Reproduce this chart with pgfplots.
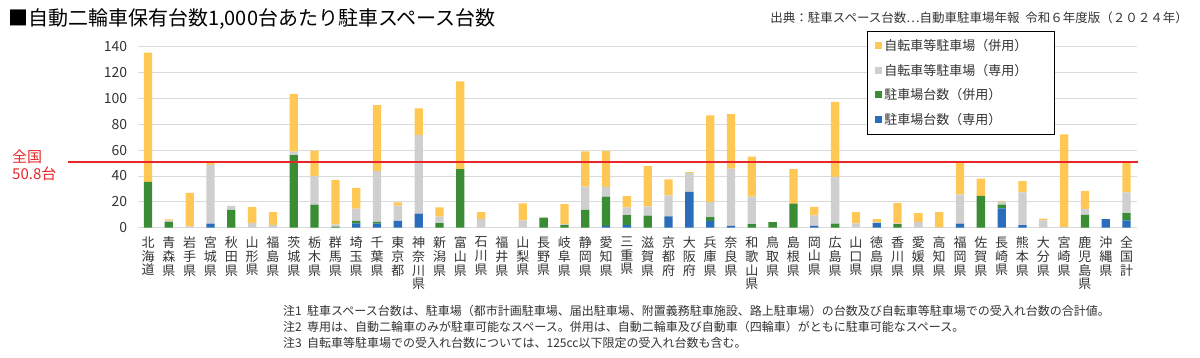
\documentclass[border=0pt]{standalone}
\usepackage{fontspec}
\setmainfont{Noto Sans CJK JP}
\usepackage{pgfplots}
\usepackage{pgfplotstable}
\pgfplotsset{compat=1.18}
\definecolor{cyel}{HTML}{FFC855}
\definecolor{cgray}{HTML}{CFCFCF}
\definecolor{cgreen}{HTML}{3A8C35}
\definecolor{cblue}{HTML}{2A6DBA}
\definecolor{cgrid}{HTML}{DADADA}
\definecolor{ctext}{HTML}{333333}
\definecolor{cred}{HTML}{E8262A}
\pgfplotstableread{
i blue green gray yellow
0 0 35.5 0 100
1 0 4.5 1.0 1.0
2 0 0 1.0 26
3 3.1 0 45.4 2.0
4 0 13.7 3.0 0.2
5 0 0 3.6 12.4
6 0 0 2.0 10.1
7 0 56.2 2.6 44.8
8 0 17.8 22.2 19.6
9 0 0.8 1.8 34.3
10 3.4 1.8 9.5 16.2
11 3.1 1.5 39.2 51.1
12 5.2 0 11.8 2.6
13 10.8 0 60.9 20.6
14 0 3.6 5.0 7.1
15 0 45.4 0 67.8
16 0 0 6.7 5.4
17 0 0 0 0
18 0 0 5.7 13.1
19 0 7.7 0 0
20 0 2.0 1.0 15.3
21 0 13.7 18.0 27.3
22 1.5 22.5 7.5 27.8
23 2.0 7.8 5.9 8.8
24 0 9.3 7.2 31.2
25 8.8 0 16.2 12.4
26 27.8 0 14.5 0.7
27 5.2 3.0 11.7 67.0
28 1.5 0 44.1 42.3
29 0 2.8 21.2 30.9
30 0 4.4 0 0
31 0 18.6 0 26.8
32 1.5 0 8.0 6.7
33 0 3.1 36.3 58.0
34 0 0 3.4 8.7
35 3.6 0 0.8 2.3
36 0 2.8 0.5 15.8
37 0 0 4.6 6.7
38 0 0 0.5 11.6
39 3.1 0 22.4 25.8
40 0 24.7 0 13.2
41 15.0 2.8 2.0 0.6
42 2.0 0 25.3 8.8
43 0 0 5.7 1.3
44 0 0 0.7 71.5
45 0 10.0 4.4 14.0
46 6.7 0 0 0
47 5.7 5.6 16.0 23.5
}\data
\begin{document}
\begin{tikzpicture}[x=1pt,y=1pt]
\useasboundingbox (0,0) rectangle (1200,357);
\begin{axis}[
  at={(137.6pt,129.3pt)}, anchor=south west,
  scale only axis, width=999.4pt, height=181pt,
  xmin=-0.5, xmax=47.5, ymin=0, ymax=140,
  ybar stacked, bar width=8.3pt,
  axis line style={draw=none},
  major tick length=0pt,
  ymajorgrids, grid style={cgrid, line width=0.8pt},
  ytick={0,20,...,140},
  yticklabel style={font=\fontsize{14}{14}\selectfont, text=ctext, xshift=-7pt},
  /pgf/number format/assume math mode=true,
  xtick={0,...,47},
  xticklabels={{北\\海\\道},{青\\森\\県},{岩\\手\\県},{宮\\城\\県},{秋\\田\\県},{山\\形\\県},{福\\島\\県},{茨\\城\\県},{栃\\木\\県},{群\\馬\\県},{埼\\玉\\県},{千\\葉\\県},{東\\京\\都},{神\\奈\\川\\県},{新\\潟\\県},{富\\山\\県},{石\\川\\県},{福\\井\\県},{山\\梨\\県},{長\\野\\県},{岐\\阜\\県},{静\\岡\\県},{愛\\知\\県},{三\\重\\県},{滋\\賀\\県},{京\\都\\府},{大\\阪\\府},{兵\\庫\\県},{奈\\良\\県},{和\\歌\\山\\県},{鳥\\取\\県},{島\\根\\県},{岡\\山\\県},{広\\島\\県},{山\\口\\県},{徳\\島\\県},{香\\川\\県},{愛\\媛\\県},{高\\知\\県},{福\\岡\\県},{佐\\賀\\県},{長\\崎\\県},{熊\\本\\県},{大\\分\\県},{宮\\崎\\県},{鹿\\児\\島\\県},{沖\\縄\\県},{全\\国\\計}},
  xticklabel style={font=\fontsize{13}{13.7}\selectfont, text=ctext, align=center, anchor=north, inner sep=0pt, yshift=-9pt},
  reverse legend,
  legend cell align=left,
  legend style={at={(0.7298,1.0867)}, anchor=north west, draw=black, line width=0.8pt, fill=white,
    font=\fontsize{13}{13}\selectfont, text=ctext, row sep=8pt, inner xsep=8pt, inner ysep=6pt},
  legend image code/.code={\fill[#1, draw=none] (0pt,-3.5pt) rectangle (7pt,3.5pt);},
]
\addplot[fill=cblue, draw=none] table[x=i, y=blue]{\data};
\addlegendentry{\makebox[160pt][l]{駐車場台数（専用）}}
\addplot[fill=cgreen, draw=none] table[x=i, y=green]{\data};
\addlegendentry{\makebox[160pt][l]{駐車場台数（併用）}}
\addplot[fill=cgray, draw=none] table[x=i, y=gray]{\data};
\addlegendentry{\makebox[160pt][l]{自転車等駐車場（専用）}}
\addplot[fill=cyel, draw=none] table[x=i, y=yellow]{\data};
\addlegendentry{\makebox[160pt][l]{自転車等駐車場（併用）}}
\end{axis}
\begin{axis}[
  at={(137.6pt,129.3pt)}, anchor=south west,
  scale only axis, width=999.4pt, height=181pt,
  xmin=-0.5, xmax=47.5, ymin=0, ymax=140,
  hide axis, clip=false,
]
\addplot[cred, line width=1.3pt] coordinates {(-3.84,50.8) (47.53,50.8)};
\end{axis}
\node[anchor=west, font=\fontsize{20}{20}\selectfont, text=black, inner sep=0pt] at (8,338) {■自動二輪車保有台数1,000台あたり駐車スペース台数};
\node[anchor=east, font=\fontsize{12.5}{12.5}\selectfont, text=ctext, inner sep=0pt] at (1188,339) {出典：駐車スペース台数…自動車駐車場年報\ \ 令和６年度版（２０２４年）};
\node[anchor=west, font=\fontsize{15}{15}\selectfont, text=cred, inner sep=0pt] at (12,200) {全国};
\node[anchor=west, font=\fontsize{15}{15}\selectfont, text=cred, inner sep=0pt] at (12,183) {50.8台};
\node[anchor=west, font=\fontsize{12}{12}\selectfont, text=ctext, inner sep=0pt] at (283,46) {注1\ \ 駐車スペース台数は、駐車場（都市計画駐車場、届出駐車場、附置義務駐車施設、路上駐車場）の台数及び自転車等駐車場での受入れ台数の合計値。};
\node[anchor=west, font=\fontsize{12}{12}\selectfont, text=ctext, inner sep=0pt] at (283,30) {注2\ \ 専用は、自動二輪車のみが駐車可能なスペース。併用は、自動二輪車及び自動車（四輪車）がともに駐車可能なスペース。};
\node[anchor=west, font=\fontsize{12}{12}\selectfont, text=ctext, inner sep=0pt] at (283,14) {注3\ \ 自転車等駐車場での受入れ台数については、125cc以下限定の受入れ台数も含む。};
\end{tikzpicture}
\end{document}
